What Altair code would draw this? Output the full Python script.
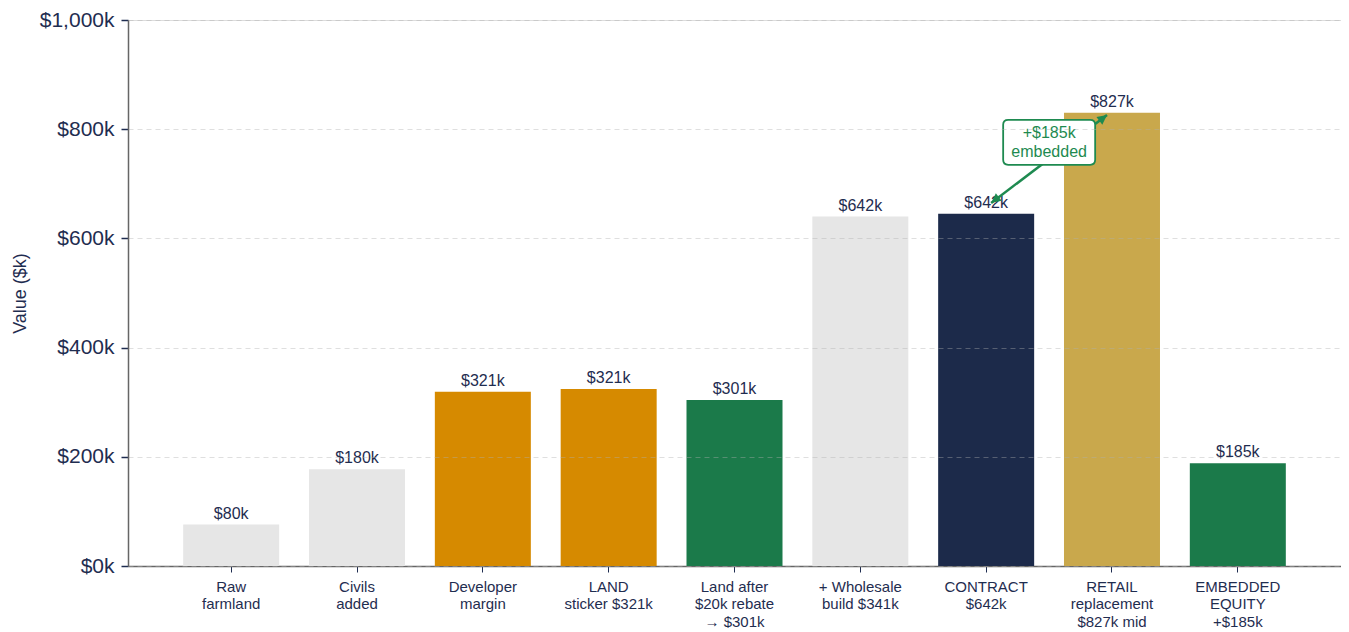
import altair as alt
import pandas as pd

categories = ["Raw\nfarmland", "Civils\nadded", "Developer\nmargin", "LAND\nsticker $321k",
              "Land after\n$20k rebate\n→ $301k", "+ Wholesale\nbuild $341k", "CONTRACT\n$642k",
              "RETAIL\nreplacement\n$827k mid", "EMBEDDED\nEQUITY\n+$185k"]
values = [76, 177, 319, 324, 304, 640, 645, 830, 188]
value_labels = ["$80k", "$180k", "$321k", "$321k", "$301k", "$642k", "$642k", "$827k", "$185k"]
colors = ["#e6e6e6", "#e6e6e6", "#d68a00", "#d68a00", "#1b7a4a", "#e6e6e6", "#1c2a4a", "#c9a84c", "#1b7a4a"]

NAVY = "#1f2d50"
GREEN = "#1e8a50"

df = pd.DataFrame({"cat": categories, "value": values, "label": value_labels, "color": colors})

xscale = alt.Scale(domain=categories, paddingInner=0.24, paddingOuter=0.44)
xaxis = alt.Axis(labelAngle=0, labelExpr="split(datum.label, '\\n')",
                 labelFontSize=15, labelColor=NAVY, labelLineHeight=17.5,
                 labelPadding=7, tickColor=NAVY, tickSize=6,
                 domainColor="#666666", domainWidth=1.5, grid=False)
yscale = alt.Scale(domain=[0, 1000], nice=False)
yaxis = alt.Axis(values=[0, 200, 400, 600, 800, 1000],
                 labelExpr="'$' + format(datum.value, ',') + 'k'",
                 labelFontSize=21, labelColor=NAVY, labelPadding=7,
                 tickColor=NAVY, tickSize=7, tickWidth=1.5,
                 domainColor="#666666", domainWidth=1.5,
                 grid=True, gridColor="#b0b0b0", gridOpacity=0.4, gridDash=[5, 4],
                 titleFontSize=18, titleFontWeight="normal", titleColor=NAVY,
                 titlePadding=10, zindex=1)


def X(field):
    return alt.X(field, type="nominal", scale=xscale, axis=xaxis, title=None)


def Y(field):
    return alt.Y(field, type="quantitative", scale=yscale, axis=yaxis, title="Value ($k)")


bars = alt.Chart(df).mark_bar(size=96).encode(
    x=X("cat"), y=Y("value"), color=alt.Color("color:N", scale=None))

texts = alt.Chart(df).mark_text(baseline="alphabetic", dy=-6, fontSize=16, color=NAVY).encode(
    x=X("cat"), y=Y("value"), text="label:N")

# annotation
arrow_from = ["CONTRACT\n$642k"]
arrow_to = ["RETAIL\nreplacement\n$827k mid"]
arrow_y = [665]
arrow_y2 = [826]
adf = pd.DataFrame({"cat": arrow_from, "cat2": arrow_to, "y": arrow_y, "y2": arrow_y2})

line = alt.Chart(adf).mark_rule(color=GREEN, strokeWidth=2.5, xOffset=5, x2Offset=-5).encode(
    x=X("cat"), x2="cat2", y=Y("y"), y2="y2")

head_path = "M0,0 L0.6,1.2 L-0.6,1.2 Z"
head_end = alt.Chart(adf).mark_point(shape=head_path, filled=True, color=GREEN, size=256,
                                     angle=52.4, opacity=1, xOffset=-5).encode(
    x=X("cat2"), y=Y("y2"))
head_start = alt.Chart(adf).mark_point(shape=head_path, filled=True, color=GREEN, size=256,
                                       angle=232.4, opacity=1, xOffset=5).encode(
    x=X("cat"), y=Y("y"))

box_text = ["+$185k\nembedded"]
box_y = [776]
bdf = pd.DataFrame({"cat": arrow_from, "y": box_y, "t": box_text})
box_path = ("M-0.89,-0.489 L0.89,-0.489 Q1,-0.489 1,-0.38 L1,0.38 Q1,0.489 0.89,0.489 "
            "L-0.89,0.489 Q-1,0.489 -1,0.38 L-1,-0.38 Q-1,-0.489 -0.89,-0.489 Z")
box = alt.Chart(bdf).mark_point(shape=box_path, filled=True, fill="white", stroke=GREEN,
                                strokeWidth=1.8, size=8464, opacity=1, xOffset=63).encode(
    x=X("cat"), y=Y("y"))
btext = alt.Chart(bdf).mark_text(fontSize=16, color=GREEN, lineHeight=19, xOffset=63, dy=-9.5,
                                 baseline="middle", lineBreak="\n").encode(
    x=X("cat"), y=Y("y"), text="t:N")

chart = alt.layer(bars, texts, line, box, btext, head_end, head_start).properties(
    width=1213, height=546,
    autosize=alt.AutoSizeParams(type="none"),
    padding={"left": 120, "top": 12, "right": 0, "bottom": 66},
).configure_view(stroke=None).configure(font="Liberation Sans", background="white")

chart.save("out.html", embed_options={"renderer": "svg", "actions": False})
